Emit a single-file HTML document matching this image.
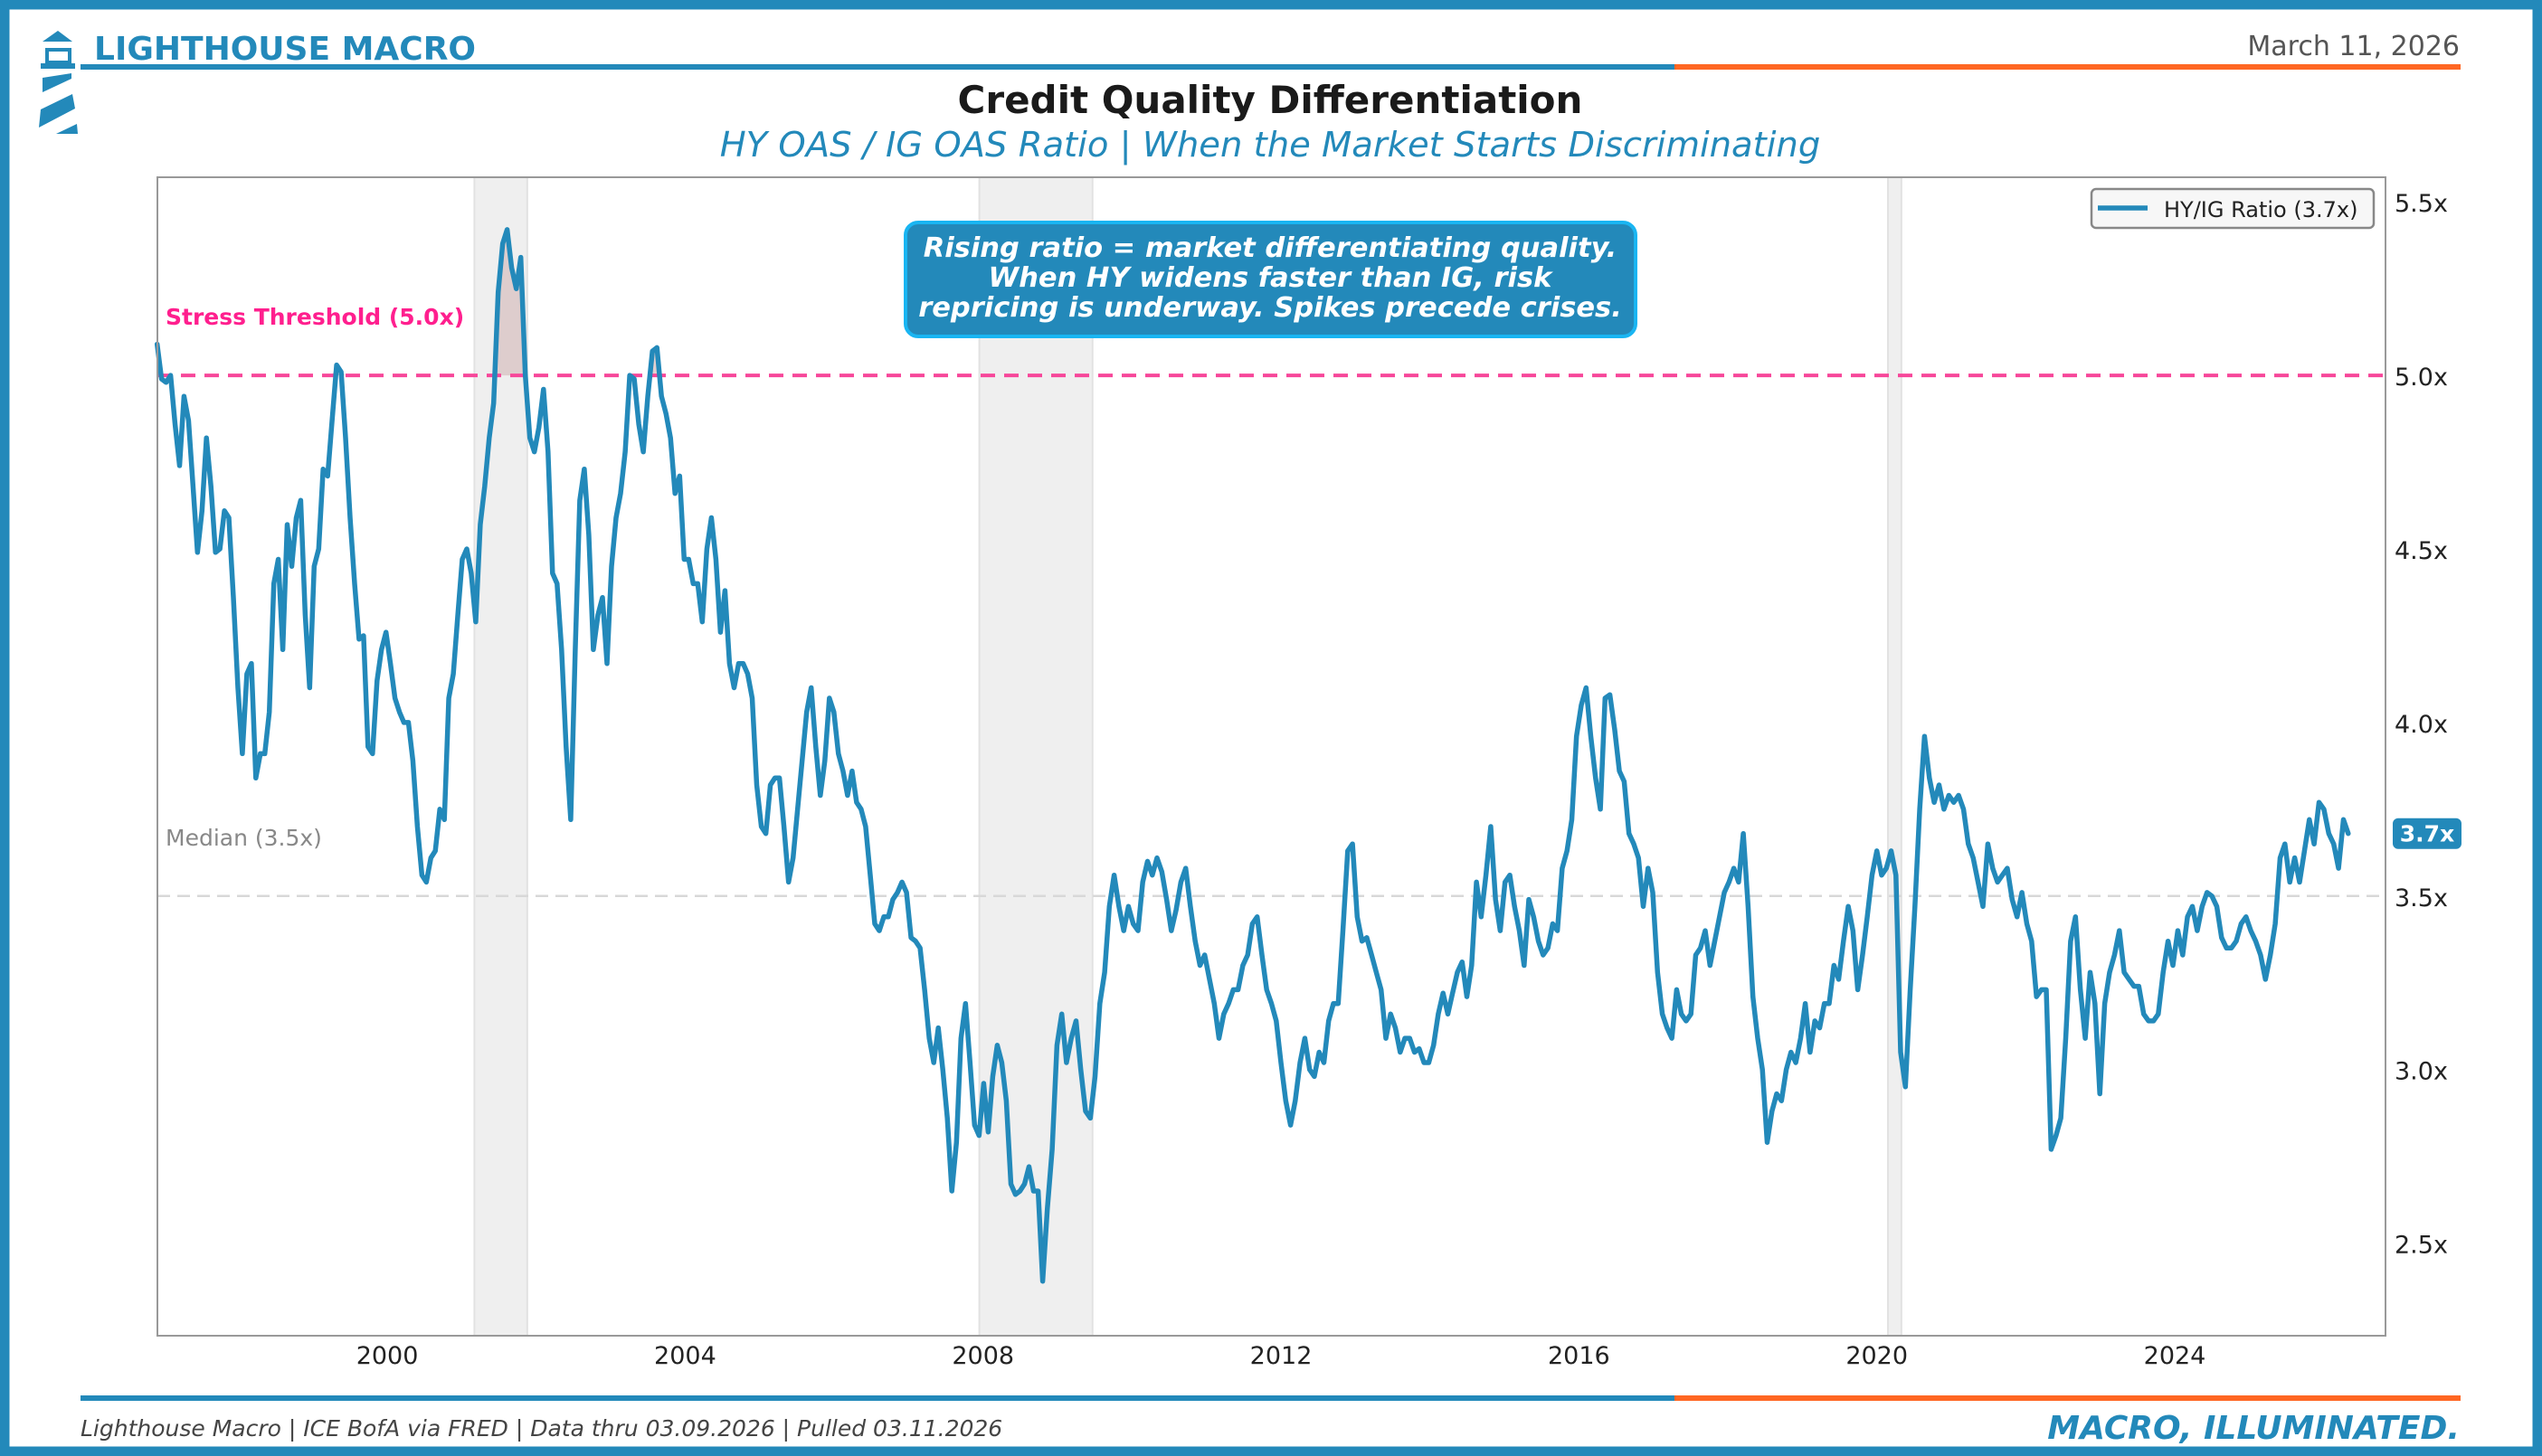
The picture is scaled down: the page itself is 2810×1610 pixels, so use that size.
<!DOCTYPE html>
<html><head><meta charset="utf-8"><style>
html,body{margin:0;padding:0;background:#fff;}
svg{display:block;font-family:"DejaVu Sans","Liberation Sans",sans-serif;}
</style></head><body>
<svg id="chart" width="2810" height="1610" viewBox="0 0 2810 1610" xmlns="http://www.w3.org/2000/svg">
<rect x="5" y="5" width="2800" height="1600" fill="#fff" stroke="#2389ba" stroke-width="11"/>
<g fill="#2389ba">
<polygon points="47,46 64,34 80,46"/>
<rect x="52" y="55" width="25" height="14" fill="none" stroke="#2389ba" stroke-width="4"/>
<rect x="45" y="70" width="38" height="6"/>
<polygon points="47,86 79,81 79,87 47,102"/>
<polygon points="45,121 80,104 83,120 43,141"/>
<polygon points="62,148 85,137 86,148"/>
</g>
<text x="104" y="66" font-size="36" font-weight="bold" fill="#2389ba">LIGHTHOUSE MACRO</text>
<text x="2719" y="61" font-size="30" fill="#555" text-anchor="end">March 11, 2026</text>
<rect x="89" y="71" width="1762" height="6" fill="#2389ba"/>
<rect x="1851" y="71" width="869" height="6" fill="#ff6723"/>
<text x="1404" y="125" font-size="42" font-weight="bold" fill="#1a1a1a" text-anchor="middle">Credit Quality Differentiation</text>
<text x="1404" y="173" font-size="38.5" font-style="italic" fill="#2389ba" text-anchor="middle">HY OAS / IG OAS Ratio | When the Market Starts Discriminating</text>
<g id="plot"></g>
<rect x="89" y="1543" width="1762" height="6" fill="#2389ba"/>
<rect x="1851" y="1543" width="869" height="6" fill="#ff6723"/>
<text x="89" y="1588" font-size="25" font-style="italic" fill="#444">Lighthouse Macro | ICE BofA via FRED | Data thru 03.09.2026 | Pulled 03.11.2026</text>
<text x="2719" y="1591" font-size="36" font-weight="bold" font-style="italic" fill="#2389ba" text-anchor="end">MACRO, ILLUMINATED.</text>
</svg>
<script>
const anchorIndex = [0, 78, 196, 381];
const anchorYear = [1996.91, 2001.61, 2008.80, 2020.64];
const endYear = 2026.33;
const ratioValues = [5.09,4.99,4.98,5.00,4.86,4.74,4.94,4.87,4.68,4.49,4.61,4.82,4.68,4.49,4.50,4.61,4.59,4.36,4.10,3.91,4.14,4.17,3.84,3.91,3.91,4.03,4.40,4.47,4.21,4.57,4.45,4.59,4.64,4.31,4.10,4.45,4.50,4.73,4.71,4.87,5.03,5.01,4.82,4.59,4.40,4.24,4.25,3.93,3.91,4.12,4.21,4.26,4.17,4.07,4.03,4.00,4.00,3.89,3.70,3.56,3.54,3.61,3.63,3.75,3.72,4.07,4.14,4.31,4.47,4.50,4.43,4.29,4.57,4.68,4.82,4.92,5.24,5.38,5.42,5.31,5.25,5.34,5.00,4.82,4.78,4.85,4.96,4.78,4.43,4.40,4.21,3.93,3.72,4.21,4.64,4.73,4.54,4.21,4.31,4.36,4.17,4.45,4.59,4.66,4.78,5.00,4.99,4.86,4.78,4.94,5.07,5.08,4.94,4.89,4.82,4.66,4.71,4.47,4.47,4.40,4.40,4.29,4.50,4.59,4.47,4.26,4.38,4.17,4.10,4.17,4.17,4.14,4.07,3.82,3.70,3.68,3.82,3.84,3.84,3.70,3.54,3.61,3.75,3.89,4.03,4.10,3.93,3.79,3.89,4.07,4.03,3.91,3.86,3.79,3.86,3.77,3.75,3.70,3.56,3.42,3.40,3.44,3.44,3.49,3.51,3.54,3.51,3.38,3.37,3.35,3.23,3.09,3.02,3.12,3.00,2.86,2.65,2.79,3.09,3.19,3.02,2.84,2.81,2.96,2.82,2.98,3.07,3.02,2.91,2.67,2.64,2.65,2.67,2.72,2.65,2.65,2.39,2.60,2.77,3.07,3.16,3.02,3.09,3.14,3.00,2.88,2.86,2.98,3.19,3.28,3.47,3.56,3.47,3.40,3.47,3.42,3.40,3.54,3.60,3.56,3.61,3.57,3.49,3.40,3.46,3.54,3.58,3.47,3.37,3.30,3.33,3.26,3.19,3.09,3.16,3.19,3.23,3.23,3.30,3.33,3.42,3.44,3.33,3.23,3.19,3.14,3.02,2.91,2.84,2.91,3.02,3.09,3.00,2.98,3.05,3.02,3.14,3.19,3.19,3.40,3.63,3.65,3.44,3.37,3.38,3.33,3.28,3.23,3.09,3.16,3.12,3.05,3.09,3.09,3.05,3.06,3.02,3.02,3.07,3.16,3.22,3.16,3.22,3.28,3.31,3.21,3.30,3.54,3.44,3.56,3.70,3.49,3.40,3.54,3.56,3.47,3.40,3.30,3.49,3.44,3.37,3.33,3.35,3.42,3.40,3.58,3.63,3.72,3.96,4.05,4.10,3.96,3.84,3.75,4.07,4.08,3.98,3.86,3.83,3.68,3.65,3.61,3.47,3.58,3.51,3.28,3.16,3.12,3.09,3.23,3.16,3.14,3.16,3.33,3.35,3.40,3.30,3.37,3.44,3.51,3.54,3.58,3.54,3.68,3.47,3.21,3.09,3.00,2.79,2.88,2.93,2.91,3.00,3.05,3.02,3.09,3.19,3.05,3.14,3.12,3.19,3.19,3.30,3.26,3.37,3.47,3.40,3.23,3.33,3.44,3.56,3.63,3.56,3.58,3.63,3.56,3.05,2.95,3.23,3.47,3.75,3.96,3.84,3.77,3.82,3.75,3.79,3.77,3.79,3.75,3.65,3.61,3.54,3.47,3.65,3.58,3.54,3.56,3.58,3.49,3.44,3.51,3.42,3.37,3.21,3.23,3.23,2.77,2.81,2.86,3.09,3.37,3.44,3.23,3.09,3.28,3.19,2.93,3.19,3.28,3.33,3.40,3.28,3.26,3.24,3.24,3.16,3.14,3.14,3.16,3.28,3.37,3.30,3.40,3.33,3.44,3.47,3.40,3.47,3.51,3.50,3.47,3.38,3.35,3.35,3.37,3.42,3.44,3.40,3.37,3.33,3.26,3.33,3.42,3.61,3.65,3.54,3.61,3.54,3.63,3.72,3.65,3.77,3.75,3.68,3.65,3.58,3.72,3.68];
const recessionStarts = [2001.17, 2007.95, 2020.15];
const recessionEnds = [2001.88, 2009.47, 2020.33];
const yTicks = [2.5, 3.0, 3.5, 4.0, 4.5, 5.0, 5.5];
const yTickLabels = ["2.5x","3.0x","3.5x","4.0x","4.5x","5.0x","5.5x"];
const xTicks = [2000, 2004, 2008, 2012, 2016, 2020, 2024];
const xTickLabels = ["2000","2004","2008","2012","2016","2020","2024"];
const stressLevel = 5.0;
const medianLevel = 3.5;
const latestLabel = "3.7x";

const NS = "http://www.w3.org/2000/svg";
const L = 174, R = 2637, T = 196, B = 1477;
const xMin = 1996.914, xMax = 2026.83, yMin = 2.233, yMax = 5.571;
const xs = yr => L + (yr - xMin) / (xMax - xMin) * (R - L);
const ys = v => B - (v - yMin) / (yMax - yMin) * (B - T);
const plot = document.getElementById('plot');
function mk(tag, attrs, parent) {
  const e = document.createElementNS(NS, tag);
  for (const k in attrs) e.setAttribute(k, attrs[k]);
  (parent || plot).appendChild(e);
  return e;
}
const n = ratioValues.length;
const aIdx = anchorIndex.concat([n - 1]);
const aYr = anchorYear.concat([endYear]);
function yearAt(i) {
  for (let k = 0; k < aIdx.length - 1; k++) {
    if (i <= aIdx[k + 1] || k === aIdx.length - 2) {
      const f = (i - aIdx[k]) / (aIdx[k + 1] - aIdx[k]);
      return aYr[k] + f * (aYr[k + 1] - aYr[k]);
    }
  }
}

recessionStarts.forEach((s, i) => {
  const r = mk('rect', {x: xs(s), y: T, width: xs(recessionEnds[i]) - xs(s), height: B - T, fill: '#efefef', stroke: '#e2e2e2', 'stroke-width': 2});
  
  
});

let fillPts = [];
for (let i = 0; i < n; i++) {
  fillPts.push([xs(yearAt(i)), ys(Math.max(ratioValues[i], stressLevel))]);
}
let fd = 'M' + fillPts.map(p => p[0].toFixed(1) + ',' + p[1].toFixed(1)).join(' L') + ` L${xs(yearAt(n-1)).toFixed(1)},${ys(stressLevel)} L${xs(yearAt(0)).toFixed(1)},${ys(stressLevel)} Z`;
const fillEl = mk('path', {d: fd, fill: '#d9c4c4', opacity: 0.8});



const medLine = mk('line', {x1: L, x2: R, y1: ys(medianLevel), y2: ys(medianLevel), stroke: '#d8d8d8', 'stroke-width': 2.5, 'stroke-dasharray': '14,8'});


const stLine = mk('line', {x1: L, x2: R, y1: ys(stressLevel), y2: ys(stressLevel), stroke: '#f7479a', 'stroke-width': 4, 'stroke-dasharray': '16,10'});



const d = 'M' + ratioValues.map((v, i) => xs(yearAt(i)).toFixed(1) + ',' + ys(v).toFixed(1)).join(' L');
const line = mk('path', {d: d, fill: 'none', stroke: '#2389ba', 'stroke-width': 5.5, 'stroke-linejoin': 'round', 'stroke-linecap': 'round'});



const frame = mk('rect', {x: L, y: T, width: R - L, height: B - T, fill: 'none', stroke: '#999', 'stroke-width': 2});



yTicks.forEach((t, i) => {
  const tx = mk('text', {x: 2647, y: ys(t) + 11, 'font-size': 27, fill: '#222'});
  tx.textContent = yTickLabels[i];
  
  
});
xTicks.forEach((t, i) => {
  const tx = mk('text', {x: xs(t), y: 1508, 'font-size': 27, fill: '#222', 'text-anchor': 'middle'});
  tx.textContent = xTickLabels[i];
  
  
});

const stTxt = mk('text', {x: 183, y: ys(stressLevel) - 56, 'font-size': 25, 'font-weight': 'bold', fill: '#ff1f8e'});
stTxt.textContent = 'Stress Threshold (5.0x)';


const mdTxt = mk('text', {x: 183, y: ys(medianLevel) - 56, 'font-size': 25, fill: '#888'});
mdTxt.textContent = 'Median (3.5x)';



const lastY = ys(ratioValues[n - 1]);
const badge = mk('rect', {x: 2645, y: lastY - 17, width: 76, height: 34, rx: 6, fill: '#2389ba'});


const bt = mk('text', {x: 2683, y: lastY + 9, 'font-size': 25, 'font-weight': 'bold', fill: '#fff', 'text-anchor': 'middle'});
bt.textContent = latestLabel;



const lg = mk('g', {});


mk('rect', {x: 2312, y: 209, width: 312, height: 43, rx: 5, fill: '#f7f7f7', stroke: '#888', 'stroke-width': 2.5}, lg);
mk('line', {x1: 2319, x2: 2374, y1: 230, y2: 230, stroke: '#2389ba', 'stroke-width': 5.5}, lg);
const lt = mk('text', {x: 2392, y: 240, 'font-size': 24, fill: '#222'}, lg);
lt.textContent = 'HY/IG Ratio (3.7x)';



const an = mk('g', {});


mk('rect', {x: 1001, y: 246, width: 807, height: 126, rx: 14, fill: '#2389ba', stroke: '#19b5f2', 'stroke-width': 4}, an);
['Rising ratio = market differentiating quality.', 'When HY widens faster than IG, risk', 'repricing is underway. Spikes precede crises.'].forEach((s, i) => {
  const t = mk('text', {x: 1404, y: 284 + i * 33, 'font-size': 30.5, 'font-weight': 'bold', 'font-style': 'italic', fill: '#fff', 'text-anchor': 'middle'}, an);
  t.textContent = s;
  
  
});
</script>
</body></html>
